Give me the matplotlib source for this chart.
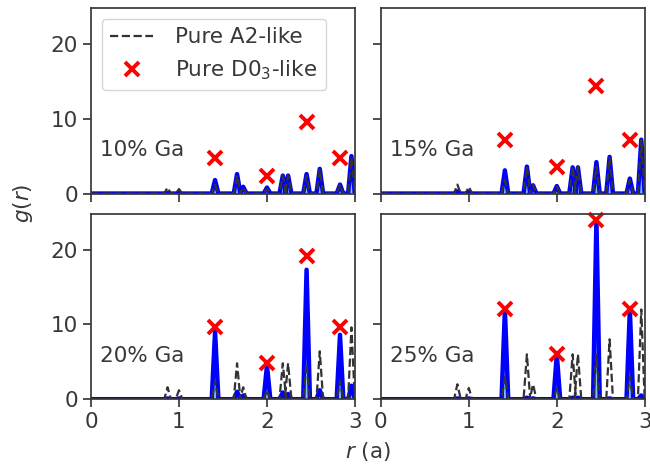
import numpy as np
import matplotlib.pyplot as plt

plt.rcParams.update({
    "font.family": "DejaVu Sans",
    "font.size": 15.5,
    "text.color": ".22",
    "axes.labelcolor": ".22",
    "axes.edgecolor": ".22",
    "xtick.color": ".22",
    "ytick.color": ".22",
    "axes.linewidth": 1.25,
})

# neighbour shell distances (units of a) of the bcc lattice
shells = [0.87, 1.00, 1.41, 1.66, 1.73, 2.00, 2.18, 2.24, 2.45, 2.60, 2.83, 2.96]
labels = ["10% Ga", "15% Ga", "20% Ga", "25% Ga"]

# simulated g(r) peak heights per concentration
sim = [
    [0.1, 0.1, 1.8, 2.6, 0.9, 0.8, 2.4, 2.4, 2.6, 3.3, 1.2, 5.0],
    [0.3, 0.2, 3.1, 3.6, 1.1, 1.0, 3.5, 3.5, 4.2, 4.9, 2.0, 7.2],
    [0.1, 0.1, 9.0, 1.0, 0.5, 4.5, 0.9, 0.7, 17.3, 1.2, 8.6, 1.8],
    [0.1, 0.1, 12.0, 0.2, 0.1, 6.0, 0.2, 0.2, 24.0, 0.1, 12.0, 0.5],
]
# random (A2-like) peak heights
a2 = [
    [0.8, 0.6, 1.2, 2.4, 0.8, 0.6, 2.4, 2.4, 2.4, 3.2, 1.2, 4.8],
    [1.2, 0.9, 1.8, 3.6, 1.2, 0.9, 3.6, 3.6, 3.6, 4.8, 1.8, 7.2],
    [1.6, 1.2, 2.4, 4.8, 1.6, 1.2, 4.8, 4.8, 4.8, 6.4, 2.4, 9.6],
    [2.0, 1.5, 3.0, 6.0, 2.0, 1.5, 6.0, 6.0, 6.0, 8.0, 3.0, 12.0],
]
# ordered (D0_3-like) peaks
d03_r = [1.41, 2.00, 2.45, 2.83]
d03 = [
    [4.8, 2.4, 9.6, 4.8],
    [7.2, 3.6, 14.4, 7.2],
    [9.6, 4.8, 19.2, 9.6],
    [12.0, 6.0, 24.0, 12.0],
]

HW = 0.038  # half width of each peak


def peak_line(pos, heights):
    xs, ys = [0.0], [0.0]
    for p, h in zip(pos, heights):
        xs += [p - HW, p, p + HW]
        ys += [0.0, h, 0.0]
    xs.append(3.0)
    ys.append(0.0)
    return np.array(xs), np.array(ys)


fig, axes = plt.subplots(2, 2, figsize=(6.5, 4.68), dpi=100, sharex=True, sharey=True)
fig.subplots_adjust(left=0.14, right=0.992, top=0.983, bottom=0.147,
                    wspace=0.098, hspace=0.108)

for i, ax in enumerate(axes.flat):
    x, y = peak_line(shells, sim[i])
    ax.fill_between(x, y, color="#7cc6ee", lw=0)
    ax.plot(x, y, color="blue", lw=3.2)
    xa, ya = peak_line(shells, a2[i])
    ax.plot(xa, ya, "--", color="#333333", lw=1.6, label="Pure A2-like")
    ax.plot(d03_r, d03[i], "x", color="red", ms=10, mew=2.8,
            label="Pure D0$_3$-like", clip_on=False)
    ax.text(0.035, 0.235, labels[i], transform=ax.transAxes, va="center")
    ax.set_xlim(0, 3)
    ax.set_ylim(0, 24.8)
    ax.set_xticks([0, 1, 2, 3])
    ax.set_yticks([0, 10, 20])
    ax.tick_params(length=6, width=1.25)

axes[0, 0].legend(loc="upper left", handlelength=2.0, handletextpad=1.0,
                  borderaxespad=0.5, edgecolor=".8", fancybox=True)
fig.text(0.566, 0.035, "$r$ (a)", ha="center", va="center")
fig.text(0.035, 0.565, "$g(r)$", ha="center", va="center", rotation=90)

fig.savefig("out.png", dpi=100)
